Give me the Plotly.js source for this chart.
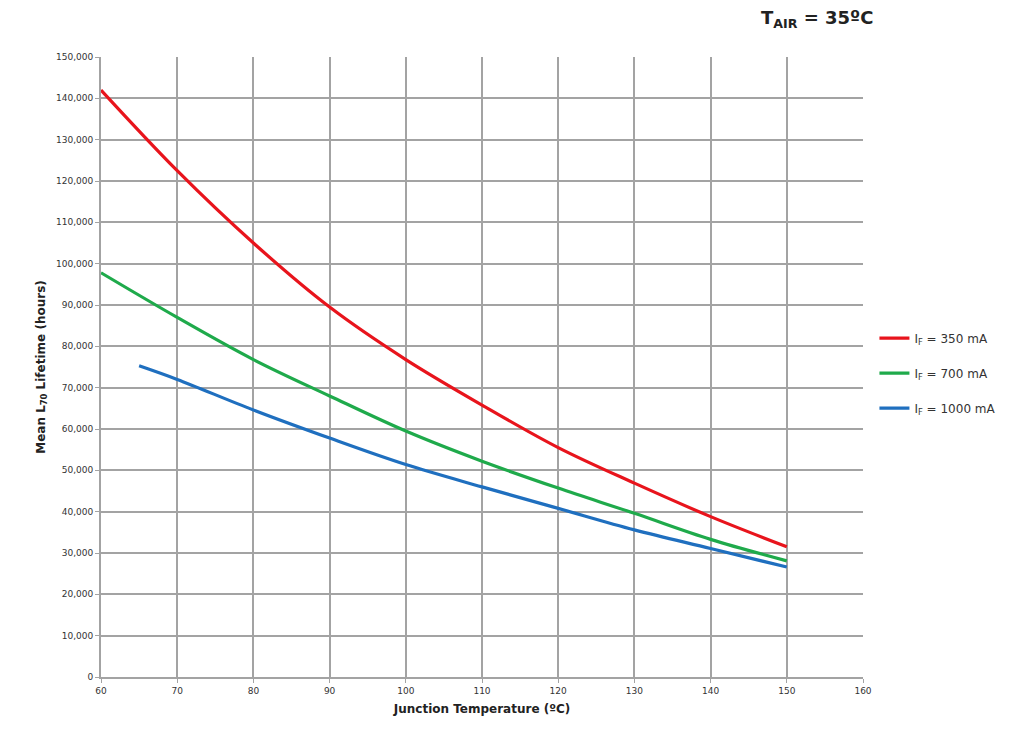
<!DOCTYPE html>
<html>
<head>
<meta charset="utf-8">
<script src="https://cdn.plot.ly/plotly-3.0.1.min.js"></script>
<style>html,body{margin:0;padding:0;background:#fff;}#chart{width:1031px;height:740px;}</style>
</head>
<body>
<div id="chart"></div>
<script>
const temps350 = [60, 70, 80, 90, 100, 110, 120, 130, 140, 150];
const life350 = [142000, 122500, 105000, 89500, 76800, 65800, 55500, 46900, 38800, 31500];
const temps700 = [60, 70, 80, 90, 100, 110, 120, 130, 140, 150];
const life700 = [97800, 87000, 76800, 68000, 59500, 52200, 45700, 39600, 33300, 28100];
const temps1000 = [65, 70, 80, 90, 100, 110, 120, 130, 140, 150];
const life1000 = [75300, 72000, 64600, 57800, 51400, 46000, 40800, 35600, 31100, 26600];
const seriesNames = ["I<sub>F</sub> = 350 mA", "I<sub>F</sub> = 700 mA", "I<sub>F</sub> = 1000 mA"];

const font = "DejaVu Sans, Verdana, sans-serif";
const mk = (x, y, name, color, g) => ({
  x: x, y: y, name: name, type: 'scatter', mode: 'lines', legendgroup: g,
  line: {color: color, width: 3.2, shape: 'spline', smoothing: 1}
});
const data = [
  mk(temps350, life350, seriesNames[0], '#e8141c', 'a'),
  mk(temps700, life700, seriesNames[1], '#1faa4b', 'b'),
  mk(temps1000, life1000, seriesNames[2], '#1f6fbf', 'c')
];
const gridCol = '#a3a3a3';
const layout = {
  width: 1031, height: 740,
  margin: {l: 101, r: 168, t: 57, b: 63},
  paper_bgcolor: '#fff', plot_bgcolor: '#fff',
  font: {family: font, color: '#333'},
  showlegend: true,
  legend: {x: 1.015, y: 0.49, xanchor: 'left', yanchor: 'middle',
    font: {family: font, size: 12, color: '#333'}, tracegroupgap: 16, itemwidth: 30,
    bgcolor: 'rgba(0,0,0,0)'},
  xaxis: {
    range: [60, 160], dtick: 10, tick0: 60,
    showgrid: true, gridcolor: gridCol, gridwidth: 2,
    showline: true, linecolor: gridCol, linewidth: 2, mirror: false,
    ticks: 'outside', ticklen: 4, tickcolor: gridCol,
    tickfont: {family: font, size: 9, color: '#333'},
    zeroline: false,
    title: {text: 'Junction Temperature (ºC)', font: {family: font, size: 12, color: '#222', weight: 'bold'}, standoff: 10}
  },
  yaxis: {
    range: [0, 150000], dtick: 10000,
    tickformat: ',d',
    showgrid: true, gridcolor: gridCol, gridwidth: 2,
    showline: true, linecolor: gridCol, linewidth: 2,
    ticks: 'outside', ticklen: 4, tickcolor: gridCol,
    tickfont: {family: font, size: 9, color: '#333'},
    zeroline: false,
    title: {text: 'Mean L<sub>70</sub> Lifetime (hours)', font: {family: font, size: 12, color: '#222', weight: 'bold'}, standoff: 8}
  },
  annotations: [{
    text: '<b>T<sub>AIR</sub> = 35ºC</b>', xref: 'paper', yref: 'paper',
    x: 0.94, y: 1.0, yshift: 38, xanchor: 'center', yanchor: 'middle', showarrow: false,
    font: {family: font, size: 18, color: '#222'}
  }]
};
Plotly.newPlot('chart', data, layout, {displayModeBar: false, staticPlot: true});
</script>
</body>
</html>
